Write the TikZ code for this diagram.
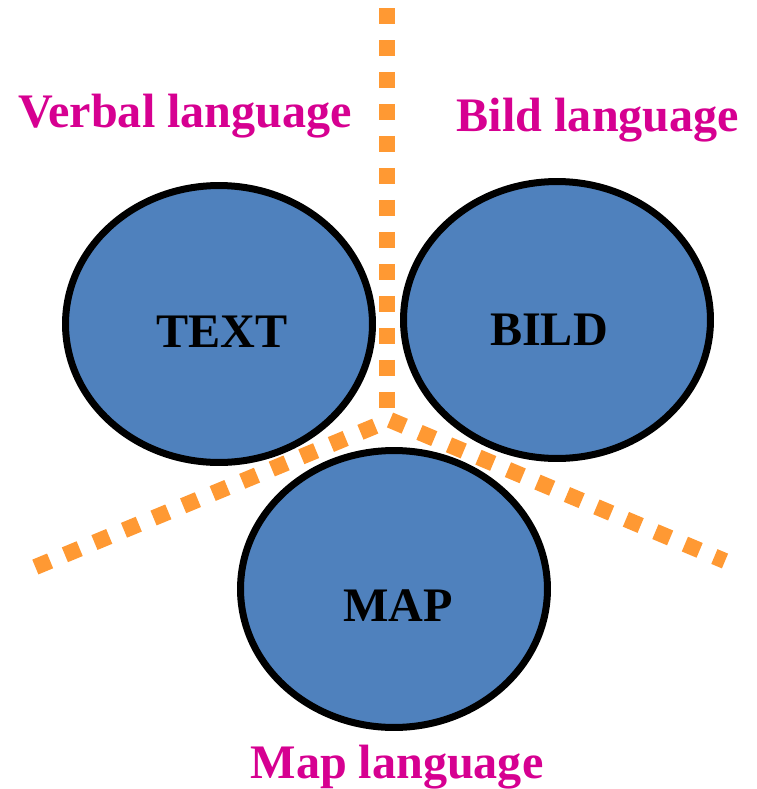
\documentclass[tikz,border=0pt]{standalone}
\usepackage{fontspec}
\setmainfont{Liberation Serif}
\usetikzlibrary{shapes.geometric}
\definecolor{blobblue}{RGB}{79,129,189}
\definecolor{dotorange}{RGB}{255,153,51}
\definecolor{langpink}{RGB}{214,0,145}

\begin{document}
\begin{tikzpicture}[x=0.02cm, y=-0.02cm,
  blob/.style = {draw, ellipse, line width=0.14cm, fill=blobblue, minimum width=6.14cm, minimum height=5.54cm, inner sep=0pt},
  word/.style = {anchor=base, inner sep=0pt, font=\fontsize{27.4}{32}\selectfont\bfseries},
  lang/.style = {word, text=langpink},
  border/.style = {dotorange, line width=0.32cm, dash pattern=on 0.32cm off 0.32cm}]
  \useasboundingbox (0,0) rectangle (757,789);
  % dotted borders between the three languages
  \coordinate (top) at (387,8);
  \coordinate (vend) at (387,410);
  \coordinate (hub) at (390,420);
  \coordinate (leftend) at (33,568);
  \coordinate (rightend) at (725,561);
  \draw[border] (top) -- (vend);
  \draw[border, dash phase=0.32cm] (hub) -- (leftend);
  \draw[border] (hub) -- (rightend);
  % the three fields
  \node[blob] (text) at (219,324) {};
  \node[blob] (bild) at (557,320) {};
  \node[blob] (map) at (394,589) {};
  \node[word] (textw) at (222,347) {TEXT};
  \node[word] (bildw) at (549,345) {BILD};
  \node[word] (mapw) at (398,621) {MAP};
  % languages
  \node[lang] (verbal) at (185,127) {Verbal language};
  \node[lang] (bildlang) at (598,131) {Bild language};
  \node[lang] (maplang) at (397,778) {Map language};
\end{tikzpicture}
\end{document}
